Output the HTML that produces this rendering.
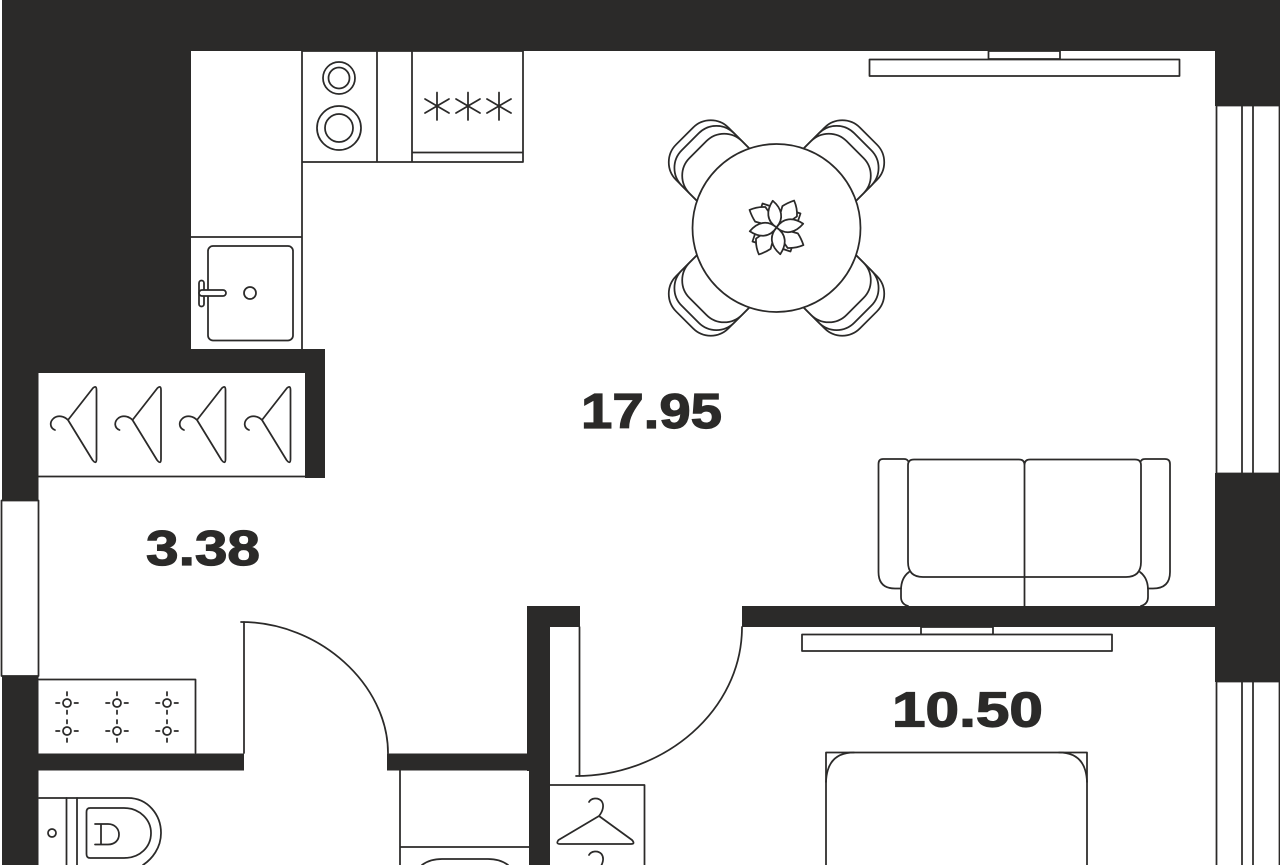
<!DOCTYPE html>
<html>
<head>
<meta charset="utf-8">
<style>
html,body{margin:0;padding:0;background:#fff;width:1280px;height:865px;overflow:hidden}
svg{display:block}
.w{fill:#2b2a29;stroke:none}
.l{fill:none;stroke:#2b2a29;stroke-width:1.75;stroke-linecap:round;stroke-linejoin:round}
.f{fill:#fff;stroke:#2b2a29;stroke-width:1.75;stroke-linejoin:round}
.t{font-family:"Liberation Sans",sans-serif;font-weight:700;fill:#2b2a29;stroke:#2b2a29;stroke-width:1.2}
</style>
</head>
<body>
<svg width="1280" height="865" viewBox="0 0 1280 865" xmlns="http://www.w3.org/2000/svg">
<defs>
<g id="ch"><path d="M68,420 L93,388 Q96.5,385 96.5,390 L96.5,459 Q96.5,465 92.5,460 Z M68,420 C64,416 58,415 54,418 C49,422 50,428 55,430" class="l"/></g>
<g id="chair">
<rect x="-37" y="-130" width="74" height="82" rx="25" class="f"/>
<rect x="-37" y="-122" width="74" height="74" rx="25" class="f"/>
<rect x="-37" y="-111" width="74" height="63" rx="25" class="f"/>
</g>
<g id="sun"><circle cx="0" cy="0" r="4" class="l"/><path d="M-11,0H-7.5M7.5,0H11M0,-11V-7.5M0,7.5V11" class="l"/></g>
<g id="star"><path d="M0,-13.5V14M-12,-7L12,7M-12,7L12,-7" class="l"/></g>
<g id="h2"><path d="M599,816 L558.5,840 Q555.5,844 560,844 L631,844 Q635.5,844 632,840 Z M589,802 C591,798 598,797 601.5,801 C604.5,805 603,811 599,816" class="l"/></g>
<g id="pw"><path d="M0,0 L7,-21 Q12,-24 19,-26 Q22,-18 21,-10 Q12,-4 0,0 Z" class="f"/></g>
<g id="ps"><path d="M0,0 L-17,-15 L-14,-24 L-5,-21 Z" class="f"/></g>
<g id="pl"><path d="M0,0 C-9,-8 -8,-18 0,-27 C8,-18 9,-8 0,0 Z" class="f"/></g>
</defs>

<!-- walls -->
<rect class="w" x="2" y="0" width="1278" height="51"/>
<rect class="w" x="2" y="0" width="189" height="350"/>
<rect class="w" x="2" y="349" width="323" height="24"/>
<rect class="w" x="2" y="349" width="36.5" height="516"/>
<rect class="w" x="305" y="349" width="20" height="129"/>
<rect class="w" x="1215" y="0" width="65" height="106"/>
<rect class="w" x="1215" y="473" width="65" height="209"/>
<rect class="w" x="742" y="606" width="480" height="21"/>
<rect class="w" x="527" y="606" width="53" height="21"/>
<rect class="w" x="527" y="606" width="23" height="165"/>
<rect class="w" x="529" y="770" width="21" height="95"/>
<rect class="w" x="38" y="753.5" width="206" height="17"/>
<rect class="w" x="387" y="753.5" width="142" height="17"/>

<!-- windows -->
<rect class="f" x="1.5" y="500.5" width="37" height="175.5"/>
<rect class="f" x="1216.5" y="105.5" width="63" height="368"/>
<path class="l" d="M1242,105.5V473.5M1253,105.5V473.5"/>
<rect class="f" x="1216.5" y="681.5" width="63" height="190"/>
<path class="l" d="M1242,681.5V865M1253,681.5V865"/>

<!-- kitchen -->
<path class="l" d="M302,51V349M302,162H523V51M377,51V162M412,51V162M412,152.5H523M191,237H302M302,51H523"/>
<rect class="l" x="208" y="246" width="85" height="94.5" rx="5"/>
<rect class="f" x="199" y="280.5" width="5" height="26" rx="2.5"/>
<rect class="f" x="199" y="290" width="27" height="6" rx="3"/>
<circle class="l" cx="250" cy="293" r="6"/>
<circle class="l" cx="339" cy="78" r="16"/><circle class="l" cx="339" cy="78" r="10.5"/>
<circle class="l" cx="339" cy="128" r="22"/><circle class="l" cx="339" cy="128" r="14"/>
<use href="#star" x="437" y="106"/><use href="#star" x="468" y="106"/><use href="#star" x="499" y="106"/>

<!-- TV top -->
<rect class="f" x="988.5" y="51" width="71.5" height="8"/>
<rect class="f" x="869.5" y="59.5" width="310" height="16.5"/>

<!-- table -->
<g transform="translate(776.5,228)">
<use href="#chair" transform="rotate(-45)"/>
<use href="#chair" transform="rotate(45)"/>
<use href="#chair" transform="rotate(135)"/>
<use href="#chair" transform="rotate(-135)"/>
<circle r="84" class="f"/>
<g transform="translate(0,-0.5)">
<use href="#ps"/><use href="#ps" transform="rotate(90)"/><use href="#ps" transform="rotate(180)"/><use href="#ps" transform="rotate(270)"/>
<g transform="rotate(-3)"><use href="#pw"/><use href="#pw" transform="rotate(90)"/><use href="#pw" transform="rotate(180)"/><use href="#pw" transform="rotate(270)"/></g>
<use href="#pl" transform="rotate(-8)"/><use href="#pl" transform="rotate(82)"/><use href="#pl" transform="rotate(172)"/><use href="#pl" transform="rotate(262)"/>
</g>
</g>

<!-- closet -->
<path class="l" d="M38,476.5H305"/>
<use href="#ch"/><use href="#ch" x="64.5"/><use href="#ch" x="129"/><use href="#ch" x="194"/>

<!-- sofa -->
<path class="l" d="M908,461 Q907,459 904,459 L883,459 Q878.5,459 878.5,464 L878.5,572 Q878.5,588.5 895,588.5 L901,588.5"/>
<path class="l" d="M1141,461 Q1142,459 1145,459 L1165,459 Q1170,459 1170,464 L1170,572 Q1170,588.5 1153,588.5 L1148,588.5"/>
<path class="l" d="M1024.5,465 Q1024.5,459.5 1019,459.5 L914,459.5 Q908,459.5 908,465 L908,562 Q908,577 923,577 L1126,577 Q1141,577 1141,562 L1141,465 Q1141,459.5 1135,459.5 L1030,459.5 Q1024.5,459.5 1024.5,465 L1024.5,606"/>
<path class="l" d="M909,572 Q901,578 901,590 L901,597 Q901,604 908,606 M1140,572 Q1148,578 1148,590 L1148,597 Q1148,604 1141,606"/>

<!-- doors -->
<path class="l" d="M244,622V753"/>
<path class="l" d="M241,622 C320,622 388,685 388,753"/>
<path class="l" d="M579.5,627V776"/>
<path class="l" d="M742,627 C742,710 665,776 576,776"/>

<!-- shelf, lights -->
<path class="l" d="M39,679.5H195.5V753"/>
<use href="#sun" x="67" y="703"/><use href="#sun" x="117" y="703"/><use href="#sun" x="167" y="703"/>
<use href="#sun" x="67" y="731"/><use href="#sun" x="117" y="731"/><use href="#sun" x="167" y="731"/>

<!-- toilet -->
<path class="l" d="M39,798H128 C148,798 161,815 161,833 C161,848 152,859 143,865"/>
<path class="l" d="M66.5,798V865M77,798V865"/>
<circle class="l" cx="52" cy="833" r="4"/>
<path class="l" d="M90,808 L124,808 C140,808 151,820 151,833 C151,847 140,858 124,858 L90,858 Q86.5,858 86.5,854 L86.5,812 Q86.5,808 90,808 Z"/>
<path class="l" d="M95,824 L108,824 C115,824 119,829 119,834.5 C119,840 115,844.5 108,844.5 L95,844.5 M101,824 L101,844.5"/>

<!-- bath cabinet -->
<path class="l" d="M400,770V865M400,847H529"/>
<path class="l" d="M422,865 Q430,859 442,859 L488,859 Q500,859 508,865"/>

<!-- wardrobe -->
<path class="l" d="M550,785H644.5V865"/>
<use href="#h2"/><use href="#h2" y="53"/>

<!-- TV bedroom -->
<rect class="f" x="921" y="627" width="72" height="7.5"/>
<rect class="f" x="802" y="634.5" width="310" height="16.5"/>

<!-- bed -->
<path class="l" d="M826,865V752.5H1087V865"/>
<path class="l" d="M826,782 Q827,752.5 854,752.5 M1087,782 Q1086,752.5 1059,752.5"/>

<!-- labels -->
<text class="t" x="581" y="428" font-size="49" textLength="141" lengthAdjust="spacingAndGlyphs">17.95</text>
<text class="t" x="146" y="565" font-size="49" textLength="114" lengthAdjust="spacingAndGlyphs">3.38</text>
<text class="t" x="892" y="726.5" font-size="49" textLength="151" lengthAdjust="spacingAndGlyphs">10.50</text>
</svg>
</body>
</html>
